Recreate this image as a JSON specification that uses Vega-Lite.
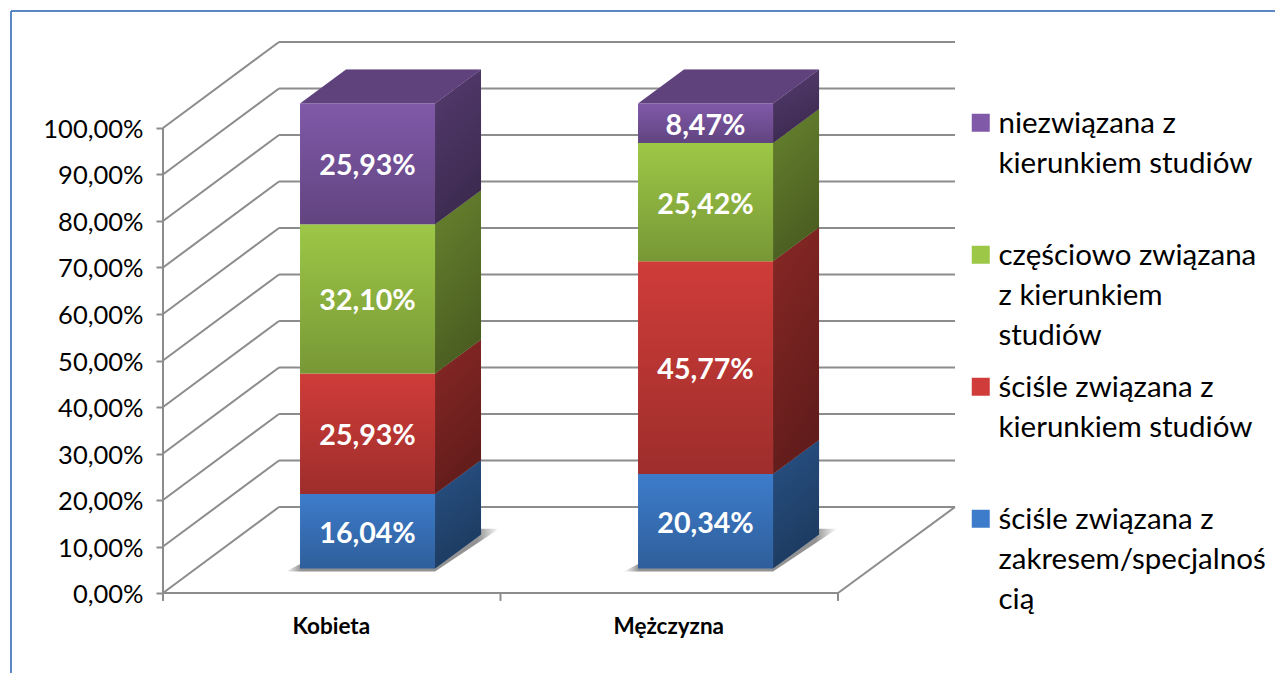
{
"$schema":"https://vega.github.io/schema/vega-lite/v6.json",
"width":1264,"height":662,
"padding":{"left":11,"top":11,"right":0,"bottom":0},
"autosize":{"type":"none"},
"background":"white",
"config":{"view":{"stroke":null},"font":"Lato"},
"datasets":{
 "ticks":[{"t":0},{"t":10},{"t":20},{"t":30},{"t":40},{"t":50},{"t":60},{"t":70},{"t":80},{"t":90},{"t":100}],
 "xticks":[{"p":0},{"p":1},{"p":2}]
},
"data":{"values":[
 {"gender":"Kobieta","series":"ściśle związana z zakresem/specjalnością","value":16.04},
 {"gender":"Kobieta","series":"ściśle związana z kierunkiem studiów","value":25.93},
 {"gender":"Kobieta","series":"częściowo związana z kierunkiem studiów","value":32.10},
 {"gender":"Kobieta","series":"niezwiązana z kierunkiem studiów","value":25.93},
 {"gender":"Mężczyzna","series":"ściśle związana z zakresem/specjalnością","value":20.34},
 {"gender":"Mężczyzna","series":"ściśle związana z kierunkiem studiów","value":45.77},
 {"gender":"Mężczyzna","series":"częściowo związana z kierunkiem studiów","value":25.42},
 {"gender":"Mężczyzna","series":"niezwiązana z kierunkiem studiów","value":8.47}
]},
"transform":[
 {"stack":"value","groupby":["gender"],"as":["lo","hi"]},
 {"calculate":"datum.gender=='Kobieta'?0:1.0015","as":"idx"},
 {"calculate":"datum.idx+0.406","as":"l"},
 {"calculate":"datum.idx+0.806","as":"r"},
 {"calculate":"(datum.l+datum.r)/2","as":"c"},
 {"calculate":"datum.lo+5.25","as":"flo"},
 {"calculate":"datum.hi+5.25","as":"fhi"},
 {"calculate":"(datum.flo+datum.fhi)/2","as":"mid"},
 {"calculate":"datum.gender+datum.series","as":"key"},
 {"calculate":"replace(format(datum.value,'.2f'),'.',',')+'%'","as":"label"}
],
"layer":[
 {"data":{"name":"ticks"},"transform":[{"calculate":"datum.t+18.49","as":"tb"}],
  "mark":{"type":"rule","color":"#8c8c8c","strokeWidth":2},
  "encoding":{
   "x":{"datum":0,"type":"quantitative","title":null,"scale":{"domain":[-0.45037,3.2948],"nice":false,"zero":false},
    "axis":{"title":null,"values":[0.5,1.5],"labelExpr":"datum.value==0.5?'Kobieta':'Mężczyzna'","orient":"bottom","offset":-80,"ticks":false,"domain":false,"grid":false,"labelFont":"Lato","labelFontWeight":"bold","labelFontSize":22.5,"labelColor":"#000","labelPadding":22,"labelOffset":-1,"labelFlush":false,"labelOverlap":false}},
   "x2":{"datum":0.3437},
   "y":{"field":"t","type":"quantitative","title":null,"scale":{"domain":[-17.204,125.161],"nice":false,"zero":false},
    "axis":{"title":null,"values":[0,10,20,30,40,50,60,70,80,90,100],"labelExpr":"replace(format(datum.value,'.2f'),'.',',')+'%'","orient":"left","offset":-152,"domain":false,"grid":false,"tickColor":"#8c8c8c","tickWidth":2,"tickSize":7,"labelFont":"Lato","labelFontSize":25.5,"labelColor":"#000","labelPadding":13,"labelOffset":1.5,"labelOverlap":false}},
   "y2":{"field":"tb"}
  }},
 {"data":{"name":"ticks"},"transform":[{"calculate":"datum.t+18.49","as":"tb"}],
  "mark":{"type":"rule","color":"#8c8c8c","strokeWidth":2},
  "encoding":{
   "x":{"datum":0.3437,"type":"quantitative","scale":{"domain":[-0.45037,3.2948],"nice":false,"zero":false}},
   "x2":{"datum":2.3467},
   "y":{"field":"tb","type":"quantitative","scale":{"domain":[-17.204,125.161],"nice":false,"zero":false}}
  }},
 {"mark":{"type":"rule","color":"#8c8c8c","strokeWidth":2},
  "data":{"name":"xticks"},
  "encoding":{
   "x":{"field":"p","type":"quantitative","scale":{"domain":[-0.45037,3.2948],"nice":false,"zero":false}},
   "y":{"datum":0,"type":"quantitative","scale":{"domain":[-17.204,125.161],"nice":false,"zero":false}},
   "y2":{"datum":-1.7}
  }},
 {"mark":{"type":"rule","color":"#8c8c8c","strokeWidth":2},
  "data":{"name":"xticks"},"transform":[{"filter":"datum.p==0"}],
  "encoding":{
   "x":{"field":"p","type":"quantitative","scale":{"domain":[-0.45037,3.2948],"nice":false,"zero":false}},
   "y":{"datum":0,"type":"quantitative","scale":{"domain":[-17.204,125.161],"nice":false,"zero":false}},
   "y2":{"datum":100}
  }},
 {"mark":{"type":"rule","color":"#8c8c8c","strokeWidth":2},
  "data":{"name":"xticks"},"transform":[{"filter":"datum.p==0"}],
  "encoding":{
   "x":{"field":"p","type":"quantitative","scale":{"domain":[-0.45037,3.2948],"nice":false,"zero":false}},
   "x2":{"datum":2},
   "y":{"datum":0,"type":"quantitative","scale":{"domain":[-17.204,125.161],"nice":false,"zero":false}}
  }},
 {"mark":{"type":"rule","color":"#8c8c8c","strokeWidth":2},
  "data":{"name":"xticks"},"transform":[{"filter":"datum.p==2"}],
  "encoding":{
   "x":{"field":"p","type":"quantitative","scale":{"domain":[-0.45037,3.2948],"nice":false,"zero":false}},
   "x2":{"datum":2.3467},
   "y":{"datum":0,"type":"quantitative","scale":{"domain":[-17.204,125.161],"nice":false,"zero":false}},
   "y2":{"datum":18.49}
  }},
 {"mark":{"type":"rule","color":"#5b87c4","strokeWidth":2},
  "encoding":{"x":{"datum":-0.45037,"type":"quantitative","scale":{"domain":[-0.45037,3.2948],"nice":false,"zero":false}}}},
 {"mark":{"type":"rule","color":"#5b87c4","strokeWidth":2},
  "encoding":{"y":{"datum":125.161,"type":"quantitative","scale":{"domain":[-17.204,125.161],"nice":false,"zero":false}}}},
 {"transform":[{"filter":"datum.lo==0"},{"calculate":"[0,1]","as":"ds"},{"flatten":["ds"],"as":["d"]},
   {"calculate":"4.6+datum.d*9.2","as":"sy"},{"calculate":"datum.l-0.042+datum.d*0.242","as":"sx"},{"calculate":"datum.r+datum.d*0.19","as":"sx2"}],
  "mark":{"type":"area","orient":"horizontal","fill":{"gradient":"linear","x1":0,"y1":0,"x2":1,"y2":0,"stops":[{"offset":0,"color":"rgba(110,110,110,0)"},{"offset":0.07,"color":"rgba(110,110,110,0.75)"},{"offset":0.9,"color":"rgba(110,110,110,0.75)"},{"offset":1,"color":"rgba(110,110,110,0)"}]}},
  "encoding":{
   "x":{"field":"sx","type":"quantitative","scale":{"domain":[-0.45037,3.2948],"nice":false,"zero":false}},
   "x2":{"field":"sx2"},
   "y":{"field":"sy","type":"quantitative","scale":{"domain":[-17.204,125.161],"nice":false,"zero":false}},
   "detail":{"field":"key"}
  }},
 {"transform":[{"calculate":"[0,1]","as":"ds"},{"flatten":["ds"],"as":["d"]},
   {"calculate":"datum.r+datum.d*0.1363","as":"sx"},{"calculate":"datum.flo+datum.d*7.31","as":"sy"},{"calculate":"datum.fhi+datum.d*7.31","as":"sy2"}],
  "mark":{"type":"area","orient":"vertical"},
  "encoding":{
   "x":{"field":"sx","type":"quantitative","scale":{"domain":[-0.45037,3.2948],"nice":false,"zero":false}},
   "y":{"field":"sy","type":"quantitative","scale":{"domain":[-17.204,125.161],"nice":false,"zero":false}},
   "y2":{"field":"sy2"},
   "color":{"field":"series","type":"nominal",
     "scale":{"domain":["niezwiązana z kierunkiem studiów","częściowo związana z kierunkiem studiów","ściśle związana z kierunkiem studiów","ściśle związana z zakresem/specjalnością"],"range":["#8059a8","#9dc746","#cf3c39","#3d7ccb"]},
     "legend":{"orient":"none","legendX":955,"legendY":97,"title":null,"symbolType":"square","symbolSize":324,"symbolStrokeWidth":0,"labelFont":"Lato","labelFontSize":29.5,"labelColor":"#000","labelLimit":400,"labelOffset":3,"labelBaseline":"alphabetic","gridAlign":"all","rowPadding":21,"columns":1,
      "labelExpr":"datum.label[0]=='n'?['niezwiązana z','kierunkiem studiów']:datum.label[0]=='c'?['częściowo związana','z kierunkiem','studiów']:indexof(datum.label,'zakresem')>=0?['ściśle związana z','zakresem/specjalnoś','cią']:['ściśle związana z','kierunkiem studiów']",
      "encoding":{"labels":{"lineHeight":{"value":40},"dy":{"value":10}}}}},
   "detail":{"field":"key"}
  }},
 {"transform":[{"calculate":"[0,1]","as":"ds"},{"flatten":["ds"],"as":["d"]},
   {"calculate":"datum.r+datum.d*0.1363","as":"sx"},{"calculate":"datum.flo+datum.d*7.31","as":"sy"},{"calculate":"datum.fhi+datum.d*7.31","as":"sy2"}],
  "mark":{"type":"area","orient":"vertical","fill":{"gradient":"linear","x1":0,"y1":0,"x2":0.3,"y2":1,"stops":[{"offset":0,"color":"rgba(0,0,0,0.34)"},{"offset":1,"color":"rgba(0,0,0,0.53)"}]}},
  "encoding":{
   "x":{"field":"sx","type":"quantitative","scale":{"domain":[-0.45037,3.2948],"nice":false,"zero":false}},
   "y":{"field":"sy","type":"quantitative","scale":{"domain":[-17.204,125.161],"nice":false,"zero":false}},
   "y2":{"field":"sy2"},
   "detail":{"field":"key"}
  }},
 {"transform":[{"filter":"datum.hi>99.99"},{"calculate":"[0,1]","as":"ds"},{"flatten":["ds"],"as":["d"]},
   {"calculate":"datum.l+datum.d*0.1363","as":"sx"},{"calculate":"datum.r+datum.d*0.1363","as":"sx2"},{"calculate":"datum.fhi+datum.d*7.31","as":"sy"}],
  "mark":{"type":"area","orient":"horizontal"},
  "encoding":{
   "x":{"field":"sx","type":"quantitative","scale":{"domain":[-0.45037,3.2948],"nice":false,"zero":false}},
   "x2":{"field":"sx2"},
   "y":{"field":"sy","type":"quantitative","scale":{"domain":[-17.204,125.161],"nice":false,"zero":false}},
   "color":{"field":"series","type":"nominal",
     "scale":{"domain":["niezwiązana z kierunkiem studiów","częściowo związana z kierunkiem studiów","ściśle związana z kierunkiem studiów","ściśle związana z zakresem/specjalnością"],"range":["#8059a8","#9dc746","#cf3c39","#3d7ccb"]}},
   "detail":{"field":"key"}
  }},
 {"transform":[{"filter":"datum.hi>99.99"},{"calculate":"[0,1]","as":"ds"},{"flatten":["ds"],"as":["d"]},
   {"calculate":"datum.l+datum.d*0.1363","as":"sx"},{"calculate":"datum.r+datum.d*0.1363","as":"sx2"},{"calculate":"datum.fhi+datum.d*7.31","as":"sy"}],
  "mark":{"type":"area","orient":"horizontal","color":"#000","opacity":0.26},
  "encoding":{
   "x":{"field":"sx","type":"quantitative","scale":{"domain":[-0.45037,3.2948],"nice":false,"zero":false}},
   "x2":{"field":"sx2"},
   "y":{"field":"sy","type":"quantitative","scale":{"domain":[-17.204,125.161],"nice":false,"zero":false}},
   "detail":{"field":"key"}
  }},
 {"mark":{"type":"rect"},
  "encoding":{
   "x":{"field":"l","type":"quantitative","scale":{"domain":[-0.45037,3.2948],"nice":false,"zero":false}},
   "x2":{"field":"r"},
   "y":{"field":"flo","type":"quantitative","scale":{"domain":[-17.204,125.161],"nice":false,"zero":false}},
   "y2":{"field":"fhi"},
   "color":{"field":"series","type":"nominal",
     "scale":{"domain":["niezwiązana z kierunkiem studiów","częściowo związana z kierunkiem studiów","ściśle związana z kierunkiem studiów","ściśle związana z zakresem/specjalnością"],"range":["#8059a8","#9dc746","#cf3c39","#3d7ccb"]}}
  }},
 {"mark":{"type":"rect","fill":{"gradient":"linear","x1":0,"y1":0,"x2":0,"y2":1,"stops":[{"offset":0,"color":"rgba(0,0,0,0)"},{"offset":1,"color":"rgba(0,0,0,0.24)"}]}},
  "encoding":{
   "x":{"field":"l","type":"quantitative","scale":{"domain":[-0.45037,3.2948],"nice":false,"zero":false}},
   "x2":{"field":"r"},
   "y":{"field":"flo","type":"quantitative","scale":{"domain":[-17.204,125.161],"nice":false,"zero":false}},
   "y2":{"field":"fhi"}
  }},
 {"mark":{"type":"text","color":"#fff","font":"Lato","fontWeight":"bold","fontSize":28.6,"baseline":"middle","dy":2.5},
  "encoding":{
   "x":{"field":"c","type":"quantitative","scale":{"domain":[-0.45037,3.2948],"nice":false,"zero":false}},
   "y":{"field":"mid","type":"quantitative","scale":{"domain":[-17.204,125.161],"nice":false,"zero":false}},
   "text":{"field":"label"}
  }}
]
}
